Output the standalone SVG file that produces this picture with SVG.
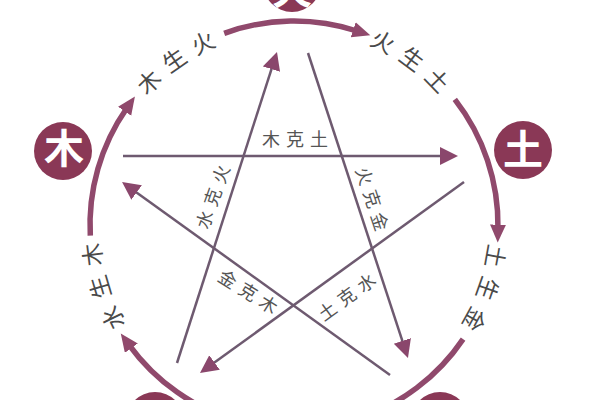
<svg xmlns="http://www.w3.org/2000/svg" width="600" height="400" viewBox="0 0 600 400">
  <style>
    .arc { fill: none; stroke: #90496c; stroke-width: 5.5; marker-end: url(#arcHead); }
    .ke { fill: none; stroke: #6e5a70; stroke-width: 2.5; marker-end: url(#keHead); }
    .node circle { fill: #8a3856; }
    .node text { font-family: "Noto Sans CJK SC", "Noto Sans", sans-serif; font-size: 40px; font-weight: bold; fill: #ffffff; text-anchor: middle; }
    .sheng { font-family: "Noto Sans CJK SC", "Noto Sans", sans-serif; font-size: 23px; fill: #4a4a4a; letter-spacing: 9px; }
    .kelab { font-family: "Noto Sans CJK SC", "Noto Sans", sans-serif; font-size: 18px; fill: #555555; letter-spacing: 6px; text-anchor: middle; }
  </style>
  <defs>
    <marker id="arcHead" markerUnits="userSpaceOnUse" markerWidth="20" markerHeight="18" refX="4" refY="8" orient="auto">
      <path d="M0,0 L18,8 L0,16 z" fill="#90496c"/>
    </marker>
    <marker id="keHead" markerUnits="userSpaceOnUse" markerWidth="20" markerHeight="20" refX="4" refY="9" orient="auto">
      <path d="M0,0 L18,9 L0,18 z" fill="#8a476c"/>
    </marker>
    <path id="p1" d="M 117.7 141.7 A 195 195 0 0 1 278.0 30.7"/>
    <path id="p2" d="M 316.4 31.3 A 195 195 0 0 1 473.0 147.6"/>
    <path id="p3" d="M 485.7 189.5 A 195 195 0 0 1 420.6 373.3"/>
    <path id="p4" d="M 159.8 366.4 A 195 195 0 0 1 104.4 179.5"/>
  </defs>
  <rect width="600" height="400" fill="#ffffff"/>

  <g id="connectors">
    <path class="arc" d="M 90.3 235.7 A 204 204 0 0 1 126.9 108.0"/>
    <path class="arc" d="M 224.2 33.3 A 204 204 0 0 1 357.0 31.0"/>
    <path class="arc" d="M 454.8 99.4 A 204 204 0 0 1 497.97 228.6"/>
    <path class="arc" d="M 463.1 339.1 A 204 204 0 0 1 357.0 419.0"/>
    <path class="arc" d="M 237.8 421.1 A 204 204 0 0 1 129.0 344.9"/>

    <line class="ke" x1="123" y1="156" x2="444" y2="156"/>
    <line class="ke" x1="308" y1="53" x2="403.6" y2="344.7"/>
    <line class="ke" x1="390" y1="375" x2="133.4" y2="190.2"/>
    <line class="ke" x1="464" y1="182" x2="211.3" y2="364.8"/>
    <line class="ke" x1="177" y1="363" x2="272.7" y2="65.3"/>
  </g>

  <g id="labels">
    <text class="sheng"><textPath href="#p1" startOffset="50%" text-anchor="middle">木生火</textPath></text>
    <text class="sheng"><textPath href="#p2" startOffset="50%" text-anchor="middle">火生土</textPath></text>
    <text class="sheng"><textPath href="#p3" startOffset="50%" text-anchor="middle">土生金</textPath></text>
    <text class="sheng"><textPath href="#p4" startOffset="50%" text-anchor="middle">水生木</textPath></text>

    <text class="kelab" x="298" y="146">木克土</text>
    <text class="kelab" transform="translate(213,197) rotate(-70.5)" x="3" y="6.5">水克火</text>
    <text class="kelab" transform="translate(372,199) rotate(71.5)" x="3" y="6.5">火克金</text>
    <text class="kelab" transform="translate(248,292) rotate(32)" x="3" y="6.5">金克木</text>
    <text class="kelab" transform="translate(347,297) rotate(-36)" x="3" y="6.5">土克水</text>
  </g>

  <g id="node-wood" class="node">
    <circle cx="63" cy="151" r="29"/>
    <text x="64" y="163">木</text>
  </g>
  <g id="node-fire" class="node">
    <circle cx="292" cy="-17" r="29"/>
    <text x="292" y="4">火</text>
  </g>
  <g id="node-earth" class="node">
    <circle cx="523" cy="150" r="29"/>
    <text x="523" y="164">土</text>
  </g>
  <g id="node-metal" class="node">
    <circle cx="440" cy="421" r="29"/>
  </g>
  <g id="node-water" class="node">
    <circle cx="155" cy="421" r="29"/>
  </g>
</svg>
